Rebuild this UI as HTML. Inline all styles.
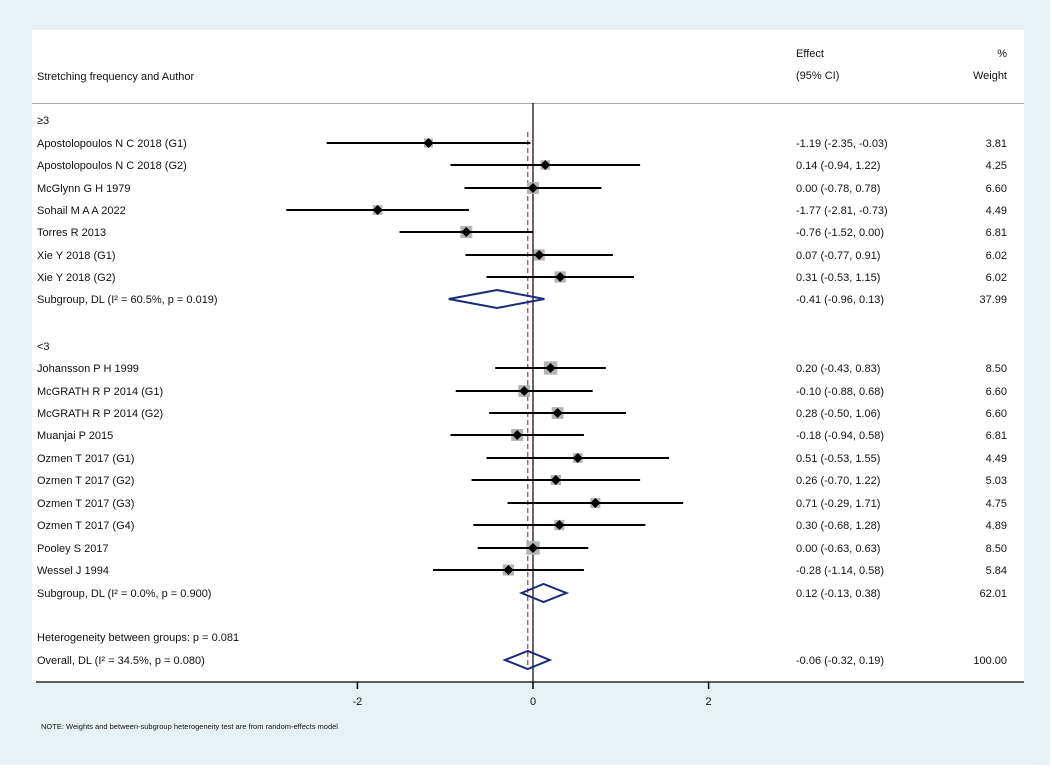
<!DOCTYPE html>
<html><head><meta charset="utf-8"><style>
body{margin:0;background:#fff}
svg text{font-family:"Liberation Sans",sans-serif;fill:#111}
</style></head><body>
<svg id="c" width="1052" height="767" xmlns="http://www.w3.org/2000/svg">
<rect x="0" y="0" width="1050" height="765" fill="#e7f1f3"/>
<rect x="32" y="30" width="992" height="652" fill="#fff"/>
<line x1="32" y1="103.5" x2="1024" y2="103.5" stroke="#aaa" stroke-width="1"/>
<text x="37" y="80" font-size="11">Stretching frequency and Author</text>
<text x="796" y="57" font-size="11">Effect</text>
<text x="796" y="79" font-size="11">(95% CI)</text>
<text x="1007" y="57" font-size="11" text-anchor="end">%</text>
<text x="1007" y="79" font-size="11" text-anchor="end">Weight</text>
<g id="marks"></g>
<text x="41" y="729" font-size="7.5">NOTE: Weights and between-subgroup heterogeneity test are from random-effects model</text>
</svg>
<script>
const labels=["≥3","Apostolopoulos N C 2018 (G1)","Apostolopoulos N C 2018 (G2)","McGlynn G H 1979","Sohail M A A 2022","Torres R 2013","Xie Y 2018 (G1)","Xie Y 2018 (G2)","Subgroup, DL (I² = 60.5%, p = 0.019)","","<3","Johansson P H 1999","McGRATH R P 2014 (G1)","McGRATH R P 2014 (G2)","Muanjai P 2015","Ozmen T 2017 (G1)","Ozmen T 2017 (G2)","Ozmen T 2017 (G3)","Ozmen T 2017 (G4)","Pooley S 2017","Wessel J 1994","Subgroup, DL (I² = 0.0%, p = 0.900)","","Heterogeneity between groups: p = 0.081","Overall, DL (I² = 34.5%, p = 0.080)"];
const rowY=[120,143,165,188,210,232,255,277,299,null,346,368,391,413,435,458,480,503,525,548,570,593,null,637,660];
const kinds=["h","s","s","s","s","s","s","s","d","","h","s","s","s","s","s","s","s","s","s","s","d","","t","d"];
const effects=[null,-1.19,0.14,0.00,-1.77,-0.76,0.07,0.31,-0.41,null,null,0.20,-0.10,0.28,-0.18,0.51,0.26,0.71,0.30,0.00,-0.28,0.12,null,null,-0.06];
const lows=[null,-2.35,-0.94,-0.78,-2.81,-1.52,-0.77,-0.53,-0.96,null,null,-0.43,-0.88,-0.50,-0.94,-0.53,-0.70,-0.29,-0.68,-0.63,-1.14,-0.13,null,null,-0.32];
const highs=[null,-0.03,1.22,0.78,-0.73,0.00,0.91,1.15,0.13,null,null,0.83,0.68,1.06,0.58,1.55,1.22,1.71,1.28,0.63,0.58,0.38,null,null,0.19];
const weights=[null,3.81,4.25,6.60,4.49,6.81,6.02,6.02,37.99,null,null,8.50,6.60,6.60,6.81,4.49,5.03,4.75,4.89,8.50,5.84,62.01,null,null,100.00];
const ticks=[-2,0,2];
const overall=-0.06;
const x=v=>533+v*87.8;
const NS="http://www.w3.org/2000/svg";
const g=document.getElementById('marks');
function mk(t,a,parent){const e=document.createElementNS(NS,t);for(const k in a)e.setAttribute(k,a[k]);(parent||g).appendChild(e);return e;}
const f=n=>n.toFixed(2);
// zero line
let e=mk('line',{x1:x(0),y1:103,x2:x(0),y2:682,stroke:'#000','stroke-width':1.2});


e=mk('line',{x1:x(overall),y1:132,x2:x(overall),y2:670,stroke:'#c0404a','stroke-width':1.3,'stroke-dasharray':'5,3'});


labels.forEach((lab,i)=>{
  if(rowY[i]===null)return;
  const y=rowY[i];
  const t=mk('text',{x:37,y:y+4,'font-size':11});t.textContent=lab;
  
  
  if(effects[i]===null)return;
  if(kinds[i]==='s'){
    const s=4.6*Math.sqrt(weights[i]);
    let r=mk('rect',{x:x(effects[i])-s/2,y:y-s/2,width:s,height:s,fill:'#b4b4b4'});
    
    
    let l=mk('line',{x1:x(lows[i]),y1:y,x2:x(highs[i]),y2:y,stroke:'#000','stroke-width':2});
    
    
    const cx=x(effects[i]);
    let p=mk('polygon',{points:`${cx},${y-5} ${cx+5},${y} ${cx},${y+5} ${cx-5},${y}`,fill:'#000'});
    
    
  } else {
    const cx=x(effects[i]);
    let p=mk('polygon',{points:`${x(lows[i])},${y} ${cx},${y-9} ${x(highs[i])},${y} ${cx},${y+9}`,fill:'none',stroke:'#1a2a7a','stroke-width':2});
    
    
  }
  let c=mk('text',{x:796,y:y+4,'font-size':11});c.textContent=`${f(effects[i])} (${f(lows[i])}, ${f(highs[i])})`;
  
  
  let w=mk('text',{x:1007,y:y+4,'font-size':11,'text-anchor':'end'});w.textContent=f(weights[i]);
  
  
});
e=mk('line',{x1:36,y1:682,x2:1024,y2:682,stroke:'#000','stroke-width':1.2});


ticks.forEach(v=>{
  let l=mk('line',{x1:x(v),y1:682,x2:x(v),y2:689,stroke:'#000','stroke-width':1.5});
  
  
  let t=mk('text',{x:x(v),y:705,'font-size':11,'text-anchor':'middle'});t.textContent=String(v);
  
  
});
</script>
</body></html>
